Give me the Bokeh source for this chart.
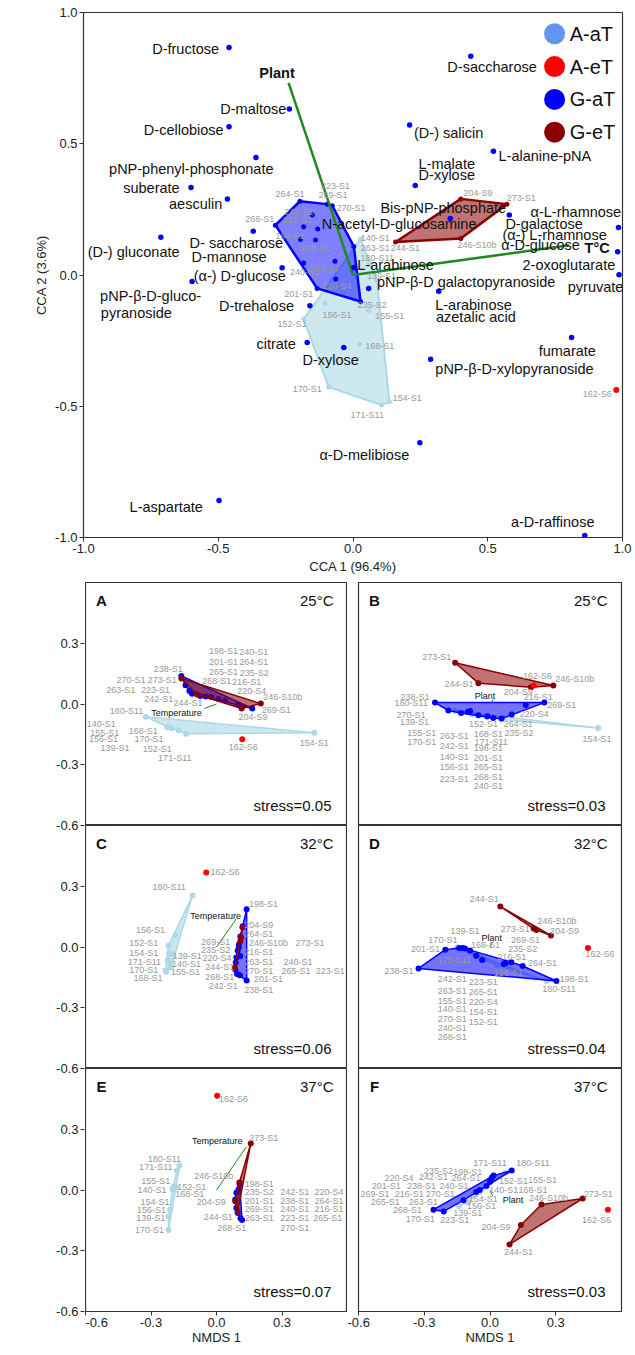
import numpy as np
from bokeh.plotting import figure
from bokeh.layouts import column, row
from bokeh.models import ColumnDataSource, Label, FixedTicker, PrintfTickFormatter
from bokeh.core.properties import value
from bokeh.embed import file_html
from bokeh.resources import INLINE

FONT = "Liberation Sans"

# ------------------------------------------------------------------ panel a : CCA
CARBON_NAMES = ["D-fructose", "D-saccharose", "D-maltose", "D-cellobiose", "(D-) salicin",
                "L-alanine-pNA", "pNP-phenyl-phosphonate", "suberate", "aesculin", "L-malate/D-xylose",
                "(D-) gluconate", "D- saccharose/D-mannose", "(a-) D-glucose", "pNP-b-D-glucopyranoside",
                "Bis-pNP-phosphate/N-acetyl-D-glucosamine", "D-galactose", "a-L-rhamnose", "2-oxoglutarate",
                "pyruvate", "pNP-b-D galactopyranoside", "L-arabinose/azetalic acid", "D-trehalose",
                "citrate", "D-xylose", "fumarate", "pNP-b-D-xylopyranoside", "a-D-melibiose",
                "L-aspartate", "a-D-raffinose", "L-arabinose"]
CARBON_CCA1 = [-0.46, 0.437, -0.236, -0.46, 0.21, 0.521, -0.36, -0.601, -0.466, 0.231,
               -0.713, -0.37, -0.263, -0.597, 0.361, 0.58, 0.985, 0.982, 0.987, 0.058,
               0.318, -0.16, -0.17, -0.034, 0.811, 0.288, 0.248, -0.497, 0.86, 0.004]
CARBON_CCA2 = [0.867, 0.833, 0.632, 0.565, 0.571, 0.471, 0.448, 0.333, 0.29, 0.341,
               0.144, 0.167, 0.028, -0.025, 0.215, 0.229, 0.181, 0.089, 0.001, -0.051,
               -0.062, -0.117, -0.257, -0.276, -0.238, -0.321, -0.639, -0.859, -0.992, 0.029]

CARBON_LABELS = [
    ("D-fructose", -0.621, 0.862), ("D-saccharose", 0.516, 0.792), ("D-maltose", -0.37, 0.632),
    ("D-cellobiose", -0.628, 0.554), ("(D-) salicin", 0.355, 0.54), ("L-alanine-pNA", 0.712, 0.453),
    ("pNP-phenyl-phosphonate", -0.6, 0.402), ("suberate", -0.748, 0.332), ("L-malate", 0.348, 0.424),
    ("D-xylose", 0.348, 0.38), ("aesculin", -0.584, 0.271), ("Bis-pNP-phosphate", 0.335, 0.257),
    ("α-L-rhamnose", 0.827, 0.24), ("N-acetyl-D-glucosamine", 0.171, 0.194), ("D-galactose", 0.709, 0.194),
    ("(α-) L-rhamnose", 0.748, 0.154), ("D- saccharose", -0.433, 0.123), ("α-D-glucose", 0.696, 0.113),
    ("(D-) gluconate", -0.814, 0.089), ("D-mannose", -0.46, 0.069), ("L-arabinose", 0.158, 0.037),
    ("2-oxoglutarate", 0.801, 0.038), ("(α-) D-glucose", -0.42, -0.003),
    ("pNP-β-D galactopyranoside", 0.42, -0.026), ("pyruvate", 0.9, -0.047),
    ("pNP-β-D-gluco-", -0.751, -0.079), ("pyranoside", -0.804, -0.146), ("D-trehalose", -0.358, -0.117),
    ("L-arabinose", 0.447, -0.115), ("azetalic acid", 0.456, -0.159), ("citrate", -0.285, -0.261),
    ("fumarate", 0.795, -0.289), ("D-xylose", -0.083, -0.325), ("pNP-β-D-xylopyranoside", 0.599, -0.359),
    ("α-D-melibiose", 0.042, -0.684), ("L-aspartate", -0.693, -0.885), ("a-D-raffinose", 0.741, -0.941),
]

CCA_AAT = [(0.028, 0.137), (0.089, -0.021), (0.06, 0.05), (-0.103, -0.108), (0.058, -0.136),
           (0.025, -0.264), (-0.183, -0.168), (-0.09, -0.427), (0.106, -0.495), (0.135, -0.483)]
CCA_AET = [(0.977, -0.438)]
CCA_GAT = [(-0.197, 0.281), (-0.096, 0.27), (-0.077, 0.264), (0.003, 0.109), (0.028, -0.101),
           (-0.133, -0.051), (-0.288, 0.19), (-0.151, 0.229), (-0.183, 0.184), (-0.131, 0.175),
           (-0.195, 0.135), (-0.139, 0.133), (-0.183, 0.046), (-0.067, 0.052), (-0.064, -0.015),
           (-0.002, 0.026)]
CCA_GET = [(0.4, 0.29), (0.571, 0.27), (0.4, 0.139), (0.158, 0.126)]
CCA_ENV = [("Plant", -0.239, 0.732, -0.282, 0.77), ("T°C", 0.801, 0.113, 0.906, 0.104)]
CCA_SAMPLE_LABELS = [
    ("264-S1", -0.234, 0.309), ("223-S1", -0.065, 0.34), ("269-S1", -0.074, 0.306), ("270-S1", -0.007, 0.257),
    ("268-S1", -0.346, 0.214), ("242-S1", -0.201, 0.239), ("216-S1", -0.207, 0.209), ("198-S1", -0.234, 0.15),
    ("238-S1", -0.139, 0.102), ("240-S1", -0.18, 0.013), ("265-S1", -0.106, 0.026), ("220-S4", -0.059, -0.04),
    ("201-S1", -0.201, -0.072), ("235-S2", 0.071, -0.114), ("263-S1", 0.083, 0.104), ("140-S1", 0.083, 0.142),
    ("180-S11", 0.09, 0.064), ("139-S1", 0.106, -0.005), ("156-S1", -0.059, -0.152), ("155-S1", 0.136, -0.157),
    ("152-S1", -0.226, -0.186), ("168-S1", 0.099, -0.27), ("170-S1", -0.17, -0.434), ("171-S11", 0.053, -0.535),
    ("154-S1", 0.201, -0.47), ("162-S6", 0.906, -0.452), ("204-S9", 0.464, 0.311), ("273-S1", 0.624, 0.295),
    ("246-S10b", 0.46, 0.114), ("244-S1", 0.194, 0.101)]

LEGEND_KEYS = ["A-aT", "A-eT", "G-aT", "G-eT"]
LEGEND_COLORS = ["#6495ed", "#ff0000", "#0000ff", "#8b0000"]

# ------------------------------------------------------------------ panel b : NMDS
PANEL_IDS = ["A", "B", "C", "D", "E", "F"]
PANEL_TEMPS = ["25°C", "25°C", "32°C", "32°C", "37°C", "37°C"]
PANEL_STRESS = ["stress=0.05", "stress=0.03", "stress=0.06", "stress=0.04", "stress=0.07", "stress=0.03"]
NMDS_TICKS = [-0.6, -0.3, 0.0, 0.3]

NM_A_AAT = [(-0.324, -0.063), (-0.226, -0.113), (-0.206, -0.12), (-0.173, -0.13), (-0.139, -0.147), (0.448, -0.142)]
NM_A_AET = [(0.118, -0.174)]
NM_A_GAT = [(-0.161, 0.138), (-0.142, 0.092), (-0.124, 0.064), (-0.112, 0.051), (-0.074, 0.039), (-0.049, 0.037),
            (-0.024, 0.034), (0.009, 0.025), (0.039, 0.017), (0.1, -0.003), (0.164, -0.022)]
NM_A_GET = [(-0.161, 0.126), (-0.089, 0.047), (0.115, -0.022), (0.203, 0.002)]
NM_A_ENV = ("Temperature", -0.055, -0.022, -0.183, -0.042)
NM_A_LABELS = [
    ("198-S1", 0.032, 0.264), ("240-S1", 0.171, 0.259), ("201-S1", 0.032, 0.208), ("264-S1", 0.171, 0.206),
    ("238-S1", -0.221, 0.171), ("265-S1", 0.032, 0.157), ("235-S2", 0.173, 0.152), ("270-S1", -0.392, 0.118),
    ("273-S1", -0.249, 0.12), ("268-S1", 0.001, 0.112), ("216-S1", 0.138, 0.107), ("263-S1", -0.438, 0.069),
    ("223-S1", -0.279, 0.068), ("220-S4", 0.161, 0.064), ("242-S1", -0.264, 0.025), ("244-S1", -0.13, 0.005),
    ("246-S10b", 0.304, 0.034), ("180-S11", -0.412, -0.034), ("269-S1", 0.274, -0.032), ("204-S9", 0.167, -0.066),
    ("140-S1", -0.528, -0.1), ("155-S1", -0.512, -0.142), ("168-S1", -0.335, -0.132), ("156-S1", -0.518, -0.174),
    ("170-S1", -0.309, -0.174), ("162-S6", 0.123, -0.211), ("154-S1", 0.448, -0.194), ("139-S1", -0.465, -0.218),
    ("152-S1", -0.271, -0.22), ("171-S11", -0.191, -0.265)]

NM_B_AAT = [(-0.159, -0.035), (0.494, -0.119), (-0.083, -0.052), (-0.015, -0.064), (0.053, -0.077)]
NM_B_AET = [(0.2, 0.091)]
NM_B_GAT = [(-0.251, 0.007), (0.248, 0.007), (0.163, -0.005), (0.099, -0.052), (0.053, -0.072), (0.015, -0.069),
            (-0.012, -0.061), (-0.053, -0.055), (-0.091, -0.035), (-0.102, -0.04), (-0.132, -0.044), (-0.19, -0.032)]
NM_B_GET = [(-0.159, 0.204), (-0.053, 0.103), (0.187, 0.083), (0.289, 0.091)]
NM_B_ENV = ("Plant", 0.015, 0.022, -0.023, 0.041)
NM_B_LABELS = [
    ("273-S1", -0.243, 0.234), ("162-S6", 0.217, 0.138), ("246-S10b", 0.387, 0.121), ("244-S1", -0.141, 0.098),
    ("204-S9", 0.129, 0.061), ("238-S1", -0.342, 0.036), ("216-S1", 0.22, 0.036), ("180-S11", -0.36, 0.003),
    ("269-S1", 0.327, -0.007), ("270-S1", -0.36, -0.052), ("220-S4", 0.202, -0.049), ("139-S1", -0.345, -0.091),
    ("152-S1", -0.03, -0.099), ("264-S1", 0.129, -0.101), ("155-S1", -0.311, -0.141), ("263-S1", -0.163, -0.158),
    ("168-S1", -0.008, -0.15), ("235-S2", 0.132, -0.143), ("170-S1", -0.311, -0.189), ("242-S1", -0.163, -0.205),
    ("171-S11", 0.005, -0.189), ("154-S1", 0.488, -0.172), ("198-S1", -0.008, -0.219), ("140-S1", -0.163, -0.263),
    ("201-S1", -0.008, -0.266), ("156-S1", -0.163, -0.313), ("265-S1", -0.008, -0.313), ("223-S1", -0.163, -0.369),
    ("268-S1", -0.008, -0.36), ("240-S1", -0.008, -0.403)]

NM_C_AAT = [(-0.11, 0.254), (-0.189, 0.057), (-0.22, 0.007), (-0.217, -0.035), (-0.204, -0.035), (-0.223, -0.065),
            (-0.211, -0.077), (-0.208, -0.099), (-0.233, -0.116), (-0.23, -0.122)]
NM_C_AET = [(-0.047, 0.368)]
NM_C_GAT = [(0.138, 0.187), (0.12, 0.103), (0.109, 0.052), (0.103, 0.012), (0.097, -0.018), (0.091, -0.052),
            (0.088, -0.077), (0.086, -0.111), (0.094, -0.133), (0.107, -0.139), (0.138, -0.166), (0.102, -0.003),
            (0.109, -0.045)]
NM_C_GET = [(0.119, 0.096), (0.113, 0.048), (0.109, 0.029), (0.084, -0.102)]
NM_C_ENV = ("Temperature", 0.091, 0.139, -0.004, 0.155)
NM_C_LABELS = [
    ("162-S6", 0.039, 0.372), ("180-S11", -0.217, 0.296), ("198-S1", 0.215, 0.214), ("204-S9", 0.193, 0.108),
    ("264-S1", 0.193, 0.066), ("156-S1", -0.302, 0.083), ("269-S1", -0.004, 0.024), ("246-S10b", 0.238, 0.02),
    ("273-S1", 0.428, 0.02), ("152-S1", -0.333, 0.02), ("235-S2", -0.004, -0.015), ("154-S1", -0.333, -0.029),
    ("216-S1", 0.193, -0.027), ("139-S1", -0.134, -0.043), ("220-S4", 0.002, -0.055), ("171-S11", -0.33, -0.072),
    ("263-S1", 0.193, -0.072), ("240-S1", 0.373, -0.072), ("140-S1", -0.137, -0.085), ("244-S1", 0.015, -0.099),
    ("170-S1", -0.333, -0.114), ("155-S1", -0.142, -0.122), ("270-S1", 0.193, -0.119), ("265-S1", 0.364, -0.119),
    ("223-S1", 0.521, -0.119), ("168-S1", -0.314, -0.153), ("268-S1", 0.015, -0.148), ("201-S1", 0.238, -0.158),
    ("242-S1", 0.031, -0.191), ("238-S1", 0.193, -0.211)]

NM_D_AAT = [(-0.149, -0.001), (-0.023, -0.064), (0.032, -0.089), (0.259, -0.169)]
NM_D_AET = [(0.447, -0.005)]
NM_D_GAT = [(-0.326, -0.106), (-0.204, -0.013), (-0.141, -0.005), (-0.125, -0.005), (-0.114, -0.008), (-0.091, -0.017),
            (-0.063, -0.043), (-0.036, -0.064), (0.063, -0.084), (0.071, -0.08), (0.097, -0.075), (0.149, -0.094),
            (0.303, -0.168)]
NM_D_GET = [(0.047, 0.2), (0.199, 0.091), (0.212, 0.084), (0.278, 0.057)]
NM_D_ENV = ("Plant", 0.01, 0.02, 0.008, 0.046)
NM_D_LABELS = [
    ("244-S1", -0.026, 0.239), ("246-S10b", 0.306, 0.126), ("273-S1", 0.115, 0.091), ("204-S9", 0.34, 0.079),
    ("139-S1", -0.114, 0.079), ("170-S1", -0.215, 0.037), ("269-S1", 0.162, 0.034), ("168-S1", -0.02, 0.012),
    ("201-S1", -0.294, -0.008), ("235-S2", 0.149, -0.008), ("162-S6", 0.502, -0.035), ("171-S11", -0.164, -0.064),
    ("216-S1", 0.099, -0.047), ("264-S1", 0.24, -0.08), ("238-S1", -0.415, -0.117), ("156-S1", 0.083, -0.126),
    ("198-S1", 0.384, -0.156), ("180-S11", 0.315, -0.206), ("242-S1", -0.172, -0.159), ("223-S1", -0.031, -0.173),
    ("263-S1", -0.172, -0.215), ("265-S1", -0.031, -0.223), ("155-S1", -0.172, -0.265), ("220-S4", -0.031, -0.27),
    ("140-S1", -0.172, -0.307), ("154-S1", -0.031, -0.321), ("270-S1", -0.172, -0.358), ("152-S1", -0.031, -0.371),
    ("240-S1", -0.172, -0.4), ("268-S1", -0.172, -0.442)]

NM_E_AAT = [(-0.17, 0.121), (-0.181, 0.096), (-0.186, 0.012), (-0.197, 0.017), (-0.201, 0.004), (-0.212, -0.097),
            (-0.22, -0.131), (-0.22, -0.198)]
NM_E_AET = [(0.003, 0.466)]
NM_E_GAT = [(0.106, 0.029), (0.101, 0.004), (0.091, -0.013), (0.086, -0.047), (0.091, -0.089), (0.097, -0.114),
            (0.11, -0.139), (0.117, -0.148)]
NM_E_GET = [(0.157, 0.23), (0.105, 0.037), (0.086, -0.055), (0.097, -0.106)]
NM_E_ENV = ("Temperature", 0.137, 0.213, 0.003, 0.242)
NM_E_LABELS = [
    ("162-S6", 0.078, 0.449), ("273-S1", 0.216, 0.259), ("180-S11", -0.239, 0.151), ("171-S11", -0.278, 0.113),
    ("246-S10b", -0.013, 0.067), ("155-S1", -0.278, 0.042), ("152-S1", -0.113, 0.017), ("198-S1", 0.196, 0.029),
    ("140-S1", -0.295, 0.0), ("168-S1", -0.123, -0.022), ("235-S2", 0.196, -0.01), ("242-S1", 0.358, -0.01),
    ("220-S4", 0.515, -0.01), ("204-S9", -0.024, -0.059), ("201-S1", 0.196, -0.052), ("238-S1", 0.358, -0.052),
    ("264-S1", 0.515, -0.052), ("154-S1", -0.282, -0.059), ("156-S1", -0.298, -0.097), ("269-S1", 0.196, -0.094),
    ("240-S1", 0.358, -0.094), ("216-S1", 0.515, -0.094), ("139-S1", -0.301, -0.139), ("244-S1", 0.008, -0.131),
    ("263-S1", 0.196, -0.139), ("223-S1", 0.358, -0.139), ("265-S1", 0.51, -0.139), ("170-S1", -0.307, -0.198),
    ("268-S1", 0.07, -0.19), ("270-S1", 0.358, -0.186)]

NM_F_AAT = [(0.071, 0.087), (-0.141, -0.08), (-0.047, -0.01), (-0.1, -0.06)]
NM_F_AET = [(0.538, -0.097)]
NM_F_GAT = [(0.099, 0.096), (0.016, 0.071), (0.008, 0.06), (-0.016, 0.02), (-0.047, 0.0), (-0.063, -0.01),
            (-0.121, -0.05), (-0.211, -0.106), (-0.258, -0.097), (0.0, 0.041)]
NM_F_GET = [(0.423, -0.042), (0.235, -0.072), (0.141, -0.173), (0.089, -0.269)]
NM_F_ENV = ("Plant", 0.012, -0.03, 0.105, -0.05)
NM_F_LABELS = [
    ("171-S11", 0.0, 0.133), ("180-S11", 0.196, 0.133), ("235-S2", -0.235, 0.096), ("198-S1", -0.102, 0.091),
    ("220-S4", -0.415, 0.057), ("242-S1", -0.258, 0.062), ("264-S1", -0.11, 0.057), ("152-S1", 0.107, 0.042),
    ("155-S1", 0.24, 0.051), ("201-S1", -0.473, 0.02), ("238-S1", -0.313, 0.02), ("240-S1", -0.164, 0.02),
    ("140-S1", 0.063, -0.002), ("168-S1", 0.196, 0.0), ("269-S1", -0.525, -0.022), ("216-S1", -0.368, -0.022),
    ("270-S1", -0.227, -0.022), ("154-S1", -0.031, -0.043), ("246-S10b", 0.267, -0.038), ("273-S1", 0.494, -0.022),
    ("265-S1", -0.478, -0.059), ("263-S1", -0.305, -0.059), ("156-S1", -0.039, -0.077), ("139-S1", -0.102, -0.114),
    ("268-S1", -0.376, -0.101), ("170-S1", -0.318, -0.144), ("223-S1", -0.161, -0.148), ("162-S6", 0.486, -0.148),
    ("204-S9", 0.027, -0.185), ("244-S1", 0.13, -0.307)]

PANELS = {
    "A": (NM_A_AAT, NM_A_AET, NM_A_GAT, NM_A_GET, NM_A_ENV, NM_A_LABELS),
    "B": (NM_B_AAT, NM_B_AET, NM_B_GAT, NM_B_GET, NM_B_ENV, NM_B_LABELS),
    "C": (NM_C_AAT, NM_C_AET, NM_C_GAT, NM_C_GET, NM_C_ENV, NM_C_LABELS),
    "D": (NM_D_AAT, NM_D_AET, NM_D_GAT, NM_D_GET, NM_D_ENV, NM_D_LABELS),
    "E": (NM_E_AAT, NM_E_AET, NM_E_GAT, NM_E_GET, NM_E_ENV, NM_E_LABELS),
    "F": (NM_F_AAT, NM_F_AET, NM_F_GAT, NM_F_GET, NM_F_ENV, NM_F_LABELS),
}

# ------------------------------------------------------------------ styles
C_AAT = "#add8e6"
C_AET = "#ff0000"
C_GAT = "#0000ff"
C_GET = "#8b0000"
GREEN = "#1f8a1f"
FRAME = "#333333"


def hull(pts):
    pts = sorted(set(pts))
    if len(pts) <= 2:
        return pts

    def cross(o, a, b):
        return (a[0] - o[0]) * (b[1] - o[1]) - (a[1] - o[1]) * (b[0] - o[0])

    lower, upper = [], []
    for q in pts:
        while len(lower) >= 2 and cross(lower[-2], lower[-1], q) <= 0:
            lower.pop()
        lower.append(q)
    for q in reversed(pts):
        while len(upper) >= 2 and cross(upper[-2], upper[-1], q) <= 0:
            upper.pop()
        upper.append(q)
    return lower[:-1] + upper[:-1]


def draw_group(p, pts, color, fill_alpha, lw, size, polygon=True):
    if polygon and len(pts) >= 3:
        h = hull(pts)
        p.patch([q[0] for q in h], [q[1] for q in h], fill_color=color, fill_alpha=fill_alpha,
                line_color=color, line_width=lw, line_join="round")
    p.scatter([q[0] for q in pts], [q[1] for q in pts], size=size, color=color, line_width=0)


def add_texts(p, items, size, color, bold=False, align="center"):
    src = ColumnDataSource(dict(x=[i[1] for i in items], y=[i[2] for i in items], t=[i[0] for i in items]))
    p.text(x="x", y="y", text="t", source=src, text_font=value(FONT), text_font_size=size,
           text_color=color, text_align=align, text_baseline="middle",
           text_font_style="bold" if bold else "normal")


def style_axes(p, label_standoff):
    for ax in p.axis:
        ax.major_label_text_font = FONT
        ax.major_label_text_font_size = "13px"
        ax.major_label_text_color = "#222222"
        ax.axis_label_text_font = FONT
        ax.axis_label_text_font_size = "13px"
        ax.axis_label_text_font_style = "normal"
        ax.axis_label_text_color = "#222222"
        ax.minor_tick_line_color = None
        ax.major_tick_in = 0
        ax.major_tick_out = 4
        ax.major_tick_line_color = FRAME
        ax.axis_line_color = FRAME
        ax.major_label_standoff = 2
        ax.axis_label_standoff = label_standoff
    p.grid.visible = False
    p.outline_line_color = FRAME
    p.outline_line_width = 1.2
    p.background_fill_color = "white"
    p.border_fill_color = "white"


# ------------------------------------------------------------------ top figure
top = figure(width=635, height=580, x_range=(-1, 1), y_range=(-1, 1), output_backend="svg",
             toolbar_location=None, min_border=0, min_border_left=83, min_border_right=13,
             min_border_top=12, min_border_bottom=43)
top.xaxis.axis_label = "CCA 1 (96.4%)"
top.yaxis.axis_label = "CCA 2 (3.6%)"
top.xaxis.ticker = FixedTicker(ticks=[-1, -0.5, 0, 0.5, 1])
top.yaxis.ticker = FixedTicker(ticks=[-1, -0.5, 0, 0.5, 1])
style_axes(top, 3)
for ax in top.axis:
    ax.formatter = PrintfTickFormatter(format="%.1f")

draw_group(top, CCA_AAT, C_AAT, 0.6, 2, 5)
draw_group(top, CCA_GAT, C_GAT, 0.5, 2.5, 5)
draw_group(top, CCA_GET, C_GET, 0.55, 2.5, 5)
draw_group(top, CCA_AET, C_AET, 1, 1, 6, polygon=False)

for name, ex, ey, lx, ly in CCA_ENV:
    top.line([0, ex], [0, ey], line_color=GREEN, line_width=2.5)
add_texts(top, [(e[0], e[3], e[4]) for e in CCA_ENV], "14.5px", "#111111", bold=True)

top.scatter(CARBON_CCA1, CARBON_CCA2, size=5.5, color=C_GAT, line_width=0)
add_texts(top, CCA_SAMPLE_LABELS, "9px", "#9a9a9a")
add_texts(top, CARBON_LABELS, "14.5px", "#111111")

# legend (manual, big circles like the original)
leg_y = [0.919 - 0.125 * i for i in range(len(LEGEND_KEYS))]
top.scatter([0.748] * len(LEGEND_KEYS), leg_y, size=21, color=LEGEND_COLORS, line_width=0)
add_texts(top, [(k, 0.804, y) for k, y in zip(LEGEND_KEYS, leg_y)], "20px", "#111111", align="left")

top.add_layout(Label(x=-1.23, y=0.829, text="a", text_font=FONT, text_font_size="20px",
                     text_align="center", text_baseline="middle", text_color="#111111"))

# ------------------------------------------------------------------ NMDS panels
FH = 243
NROWS = 3
SPAN = 1.2  # each panel spans -0.6 .. 0.6


def nmds_fig(idx):
    col, r = idx % 2, idx // 2
    left = col == 0
    bottom = r == NROWS - 1
    fw = 262 if left else 263
    mbl = 0 if left else 11
    mbr = 0 if left else 14
    mbt = 2 if r == 0 else 0
    mbb = 40 if bottom else 0
    p = figure(width=mbl + fw + mbr, height=mbt + FH + mbb, x_range=(-0.6, 0.6), y_range=(-0.6, 0.6),
               output_backend="svg", toolbar_location=None,
               x_axis_location="below" if bottom else None, y_axis_location=None,
               min_border=0, min_border_left=mbl, min_border_right=mbr, min_border_top=mbt,
               min_border_bottom=mbb)
    if bottom:
        p.xaxis.ticker = FixedTicker(ticks=NMDS_TICKS)
        p.xaxis.axis_label = "NMDS 1"
        p.xaxis.formatter = PrintfTickFormatter(format="%.1f")
    style_axes(p, 0)

    pid = PANEL_IDS[idx]
    aat, aet, gat, get, env, labels = PANELS[pid]
    draw_group(p, aat, C_AAT, 0.65, 1.5, 6)
    draw_group(p, gat, C_GAT, 0.55, 1.5, 6)
    draw_group(p, get, C_GET, 0.55, 1.5, 6)
    draw_group(p, aet, C_AET, 1, 1, 6, polygon=False)
    p.line([0, env[1]], [0, env[2]], line_color=GREEN, line_width=1)
    add_texts(p, labels, "9px", "#999999")
    add_texts(p, [(env[0], env[3], env[4])], "9px", "#111111")

    sx = SPAN / fw
    sy = SPAN / FH
    p.add_layout(Label(x=-0.6 + 16 * sx, y=0.6 - 18 * sy, text=pid, text_font=FONT, text_font_size="15px",
                       text_font_style="bold", text_align="center", text_baseline="middle", text_color="#111111"))
    p.add_layout(Label(x=0.6 - 14 * sx, y=0.6 - 18 * sy, text=PANEL_TEMPS[idx], text_font=FONT,
                       text_font_size="15px", text_align="right", text_baseline="middle", text_color="#111111"))
    p.add_layout(Label(x=0.6 - 16 * sx, y=-0.6 + 20 * sy, text=PANEL_STRESS[idx], text_font=FONT,
                       text_font_size="15px", text_align="right", text_baseline="middle", text_color="#111111"))
    return p


figs = [nmds_fig(i) for i in range(6)]

# shared left axis strip for the three NMDS 2 axes (1 px wide frame, 1 data unit = 1 px)
col_h = 2 + NROWS * FH + 40
axfig = figure(width=85, height=col_h, x_range=(0, 1), y_range=(0, NROWS * SPAN), output_backend="svg",
               toolbar_location=None, x_axis_location=None, min_border=0, min_border_left=84,
               min_border_right=0, min_border_top=2, min_border_bottom=40)
ticks, overrides = [], {}
for r in range(NROWS):
    base = (NROWS - 1 - r) * SPAN + 0.6
    for t in NMDS_TICKS:
        v = round(base + t, 6)
        ticks.append(v)
        overrides[v] = "%.1f" % t
axfig.yaxis.ticker = FixedTicker(ticks=ticks)
axfig.yaxis.major_label_overrides = overrides
style_axes(axfig, 0)
axfig.yaxis.axis_line_color = None
axfig.outline_line_color = None
ppu = FH / SPAN  # pixels per data unit of the strip
for r in range(NROWS):
    yc = (NROWS - 1 - r) * SPAN + 0.6
    axfig.add_layout(Label(x=-45, y=yc, text="NMDS 2", angle=np.pi / 2, text_font=FONT,
                           text_font_size="13px", text_align="center", text_baseline="middle",
                           text_color="#222222"))
axfig.add_layout(Label(x=-63, y=NROWS * SPAN - 8 / ppu, text="b", text_font=FONT, text_font_size="20px",
                       text_align="center", text_baseline="middle", text_color="#111111"))

grid = row(axfig, column(figs[0], figs[2], figs[4]), column(figs[1], figs[3], figs[5]))
layout = column(top, grid)

open("out.html", "w").write(file_html(layout, INLINE))
